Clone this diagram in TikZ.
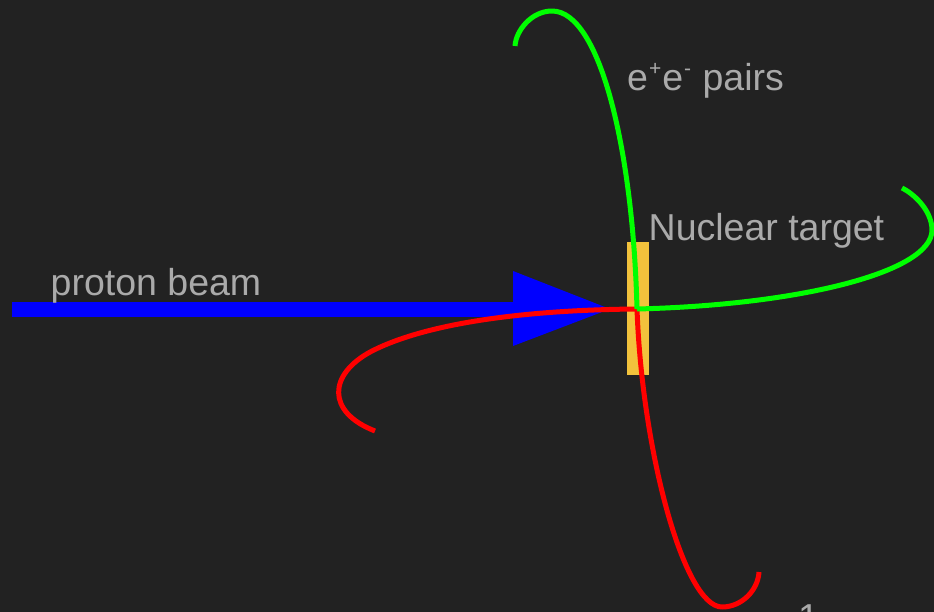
\documentclass[tikz,border=0pt]{standalone}
\usepackage{fontspec}
\setmainfont{Liberation Sans}
\definecolor{bgc}{HTML}{222222}
\definecolor{txt}{HTML}{AAAAAA}
\definecolor{tgt}{HTML}{F2C23C}
\definecolor{grn}{HTML}{00FF00}
\definecolor{rd}{HTML}{FF0000}
\definecolor{bl}{HTML}{0000FF}
\tikzset{
  lbl/.style={anchor=base west, inner sep=0pt, text=txt, font=\fontsize{37.5}{44}\selectfont},
  track/.style={line width=5pt, line cap=butt, line join=round},
}
\newcommand{\supsm}[1]{\hspace{1pt}\raisebox{0.42em}{\fontsize{21}{21}\selectfont #1}\hspace{1pt}}
\begin{document}
\begin{tikzpicture}[x=1pt,y=-1pt]
\useasboundingbox (0,0) rectangle (934,612);
\fill[bgc] (0,0) rectangle (934,612);
\clip (0,0) rectangle (934,612);
% beam
\coordinate (vtx) at (637,309);
\fill[bl] (12,301.5) rectangle (516,316.5);
\fill[bl] (513,271) -- (610,309) -- (513,346) -- cycle;
% target
\fill[tgt] (627,242) rectangle (649,375);
% red track
\draw[track, rd] (vtx) .. controls (520,310) and (425,324) .. (372,351)
  .. controls (328,374) and (326,412) .. (375,431);
\draw[track, rd] (vtx) .. controls (642,450) and (684,607) .. (722,607)
  .. controls (742,607) and (758,590) .. (759,572);
% green track
\draw[track, grn] (vtx) .. controls (633,150) and (600,11) .. (552,11)
  .. controls (532,11) and (516,30) .. (515,46);
\draw[track, grn] (vtx) .. controls (800,305) and (932,272) .. (932,230)
  .. controls (932,212) and (916,195) .. (902,188);
% labels
\node[lbl] (pb) at (50.5,295) {proton beam};
\node[lbl] (nt) at (648.5,241) {Nuclear target};
\node[lbl] (ee) at (627,91) {e\supsm{+}e\supsm{-} pairs};
\node[lbl] (one) at (798,630) {1};
\end{tikzpicture}
\end{document}
